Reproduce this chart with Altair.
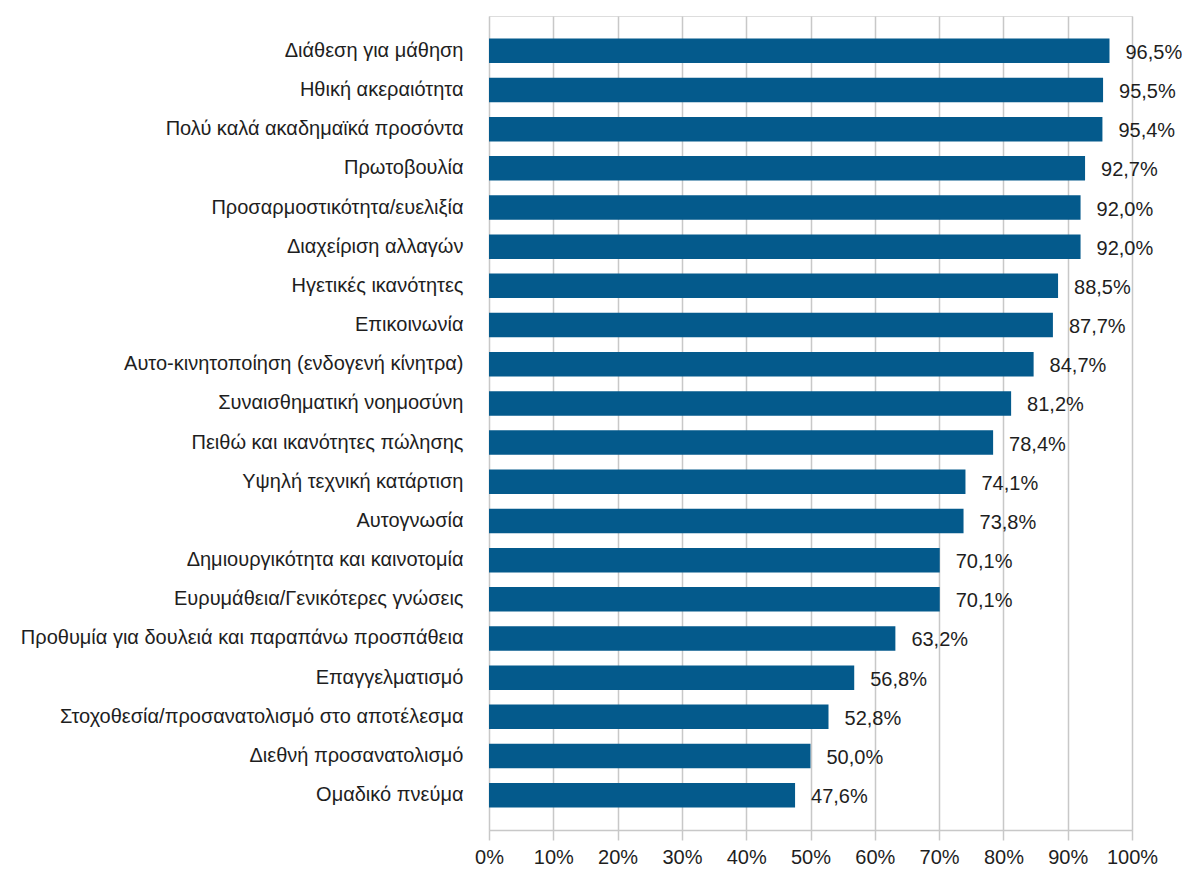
import altair as alt
import pandas as pd

categories = [
    "Διάθεση για μάθηση",
    "Ηθική ακεραιότητα",
    "Πολύ καλά ακαδημαϊκά προσόντα",
    "Πρωτοβουλία",
    "Προσαρμοστικότητα/ευελιξία",
    "Διαχείριση αλλαγών",
    "Ηγετικές ικανότητες",
    "Επικοινωνία",
    "Αυτο-κινητοποίηση (ενδογενή κίνητρα)",
    "Συναισθηματική νοημοσύνη",
    "Πειθώ και ικανότητες πώλησης",
    "Υψηλή τεχνική κατάρτιση",
    "Αυτογνωσία",
    "Δημιουργικότητα και καινοτομία",
    "Ευρυμάθεια/Γενικότερες γνώσεις",
    "Προθυμία για δουλειά και παραπάνω προσπάθεια",
    "Επαγγελματισμό",
    "Στοχοθεσία/προσανατολισμό στο αποτέλεσμα",
    "Διεθνή προσανατολισμό",
    "Ομαδικό πνεύμα",
]
values = [96.5, 95.5, 95.4, 92.7, 92.0, 92.0, 88.5, 87.7, 84.7, 81.2,
          78.4, 74.1, 73.8, 70.1, 70.1, 63.2, 56.8, 52.8, 50.0, 47.6]
labels = [f"{v:.1f}%".replace(".", ",") for v in values]

df = pd.DataFrame({"cat": categories, "val": [v / 100 for v in values], "label": labels})

FONT = "Liberation Sans"
FS = 20
TXT = "#1e1e1e"
y_enc = alt.Y("cat:N", sort=categories,
              scale=alt.Scale(paddingInner=0.375, paddingOuter=0.575),
              axis=alt.Axis(title=None, domain=False, ticks=False, labelFontSize=FS,
                            labelFont=FONT, labelColor=TXT, labelPadding=26,
                            labelLimit=600))
x_scale = alt.Scale(domain=[0, 1], nice=False)

bars = alt.Chart(df).mark_bar(color="#045a8c").encode(
    x=alt.X("val:Q", scale=x_scale,
            axis=alt.Axis(title=None, format=".0%", values=[i / 10 for i in range(11)],
                          labelFontSize=FS, labelFont=FONT, labelColor=TXT,
                          grid=True, gridColor="#c8c8c8", gridWidth=1.5,
                          domainColor="#c8c8c8", domainWidth=1.5,
                          tickColor="#c8c8c8", tickWidth=1.5, tickSize=10,
                          labelPadding=7, labelFlush=False)),
    y=y_enc,
)

text = alt.Chart(df).mark_text(align="left", baseline="middle", dx=16, dy=2,
                               fontSize=FS, font=FONT, color=TXT).encode(
    x=alt.X("val:Q", scale=x_scale),
    y=alt.Y("cat:N", sort=categories),
    text="label:N",
)

chart = (bars + text).properties(
    width=643, height=814,
    autosize=alt.AutoSizeParams(type="none"),
    padding={"left": 481, "top": 8, "right": 50, "bottom": 40},
).configure_view(stroke=None).configure(background="white")

chart.save("out.html", embed_options={"renderer": "svg", "actions": False})
